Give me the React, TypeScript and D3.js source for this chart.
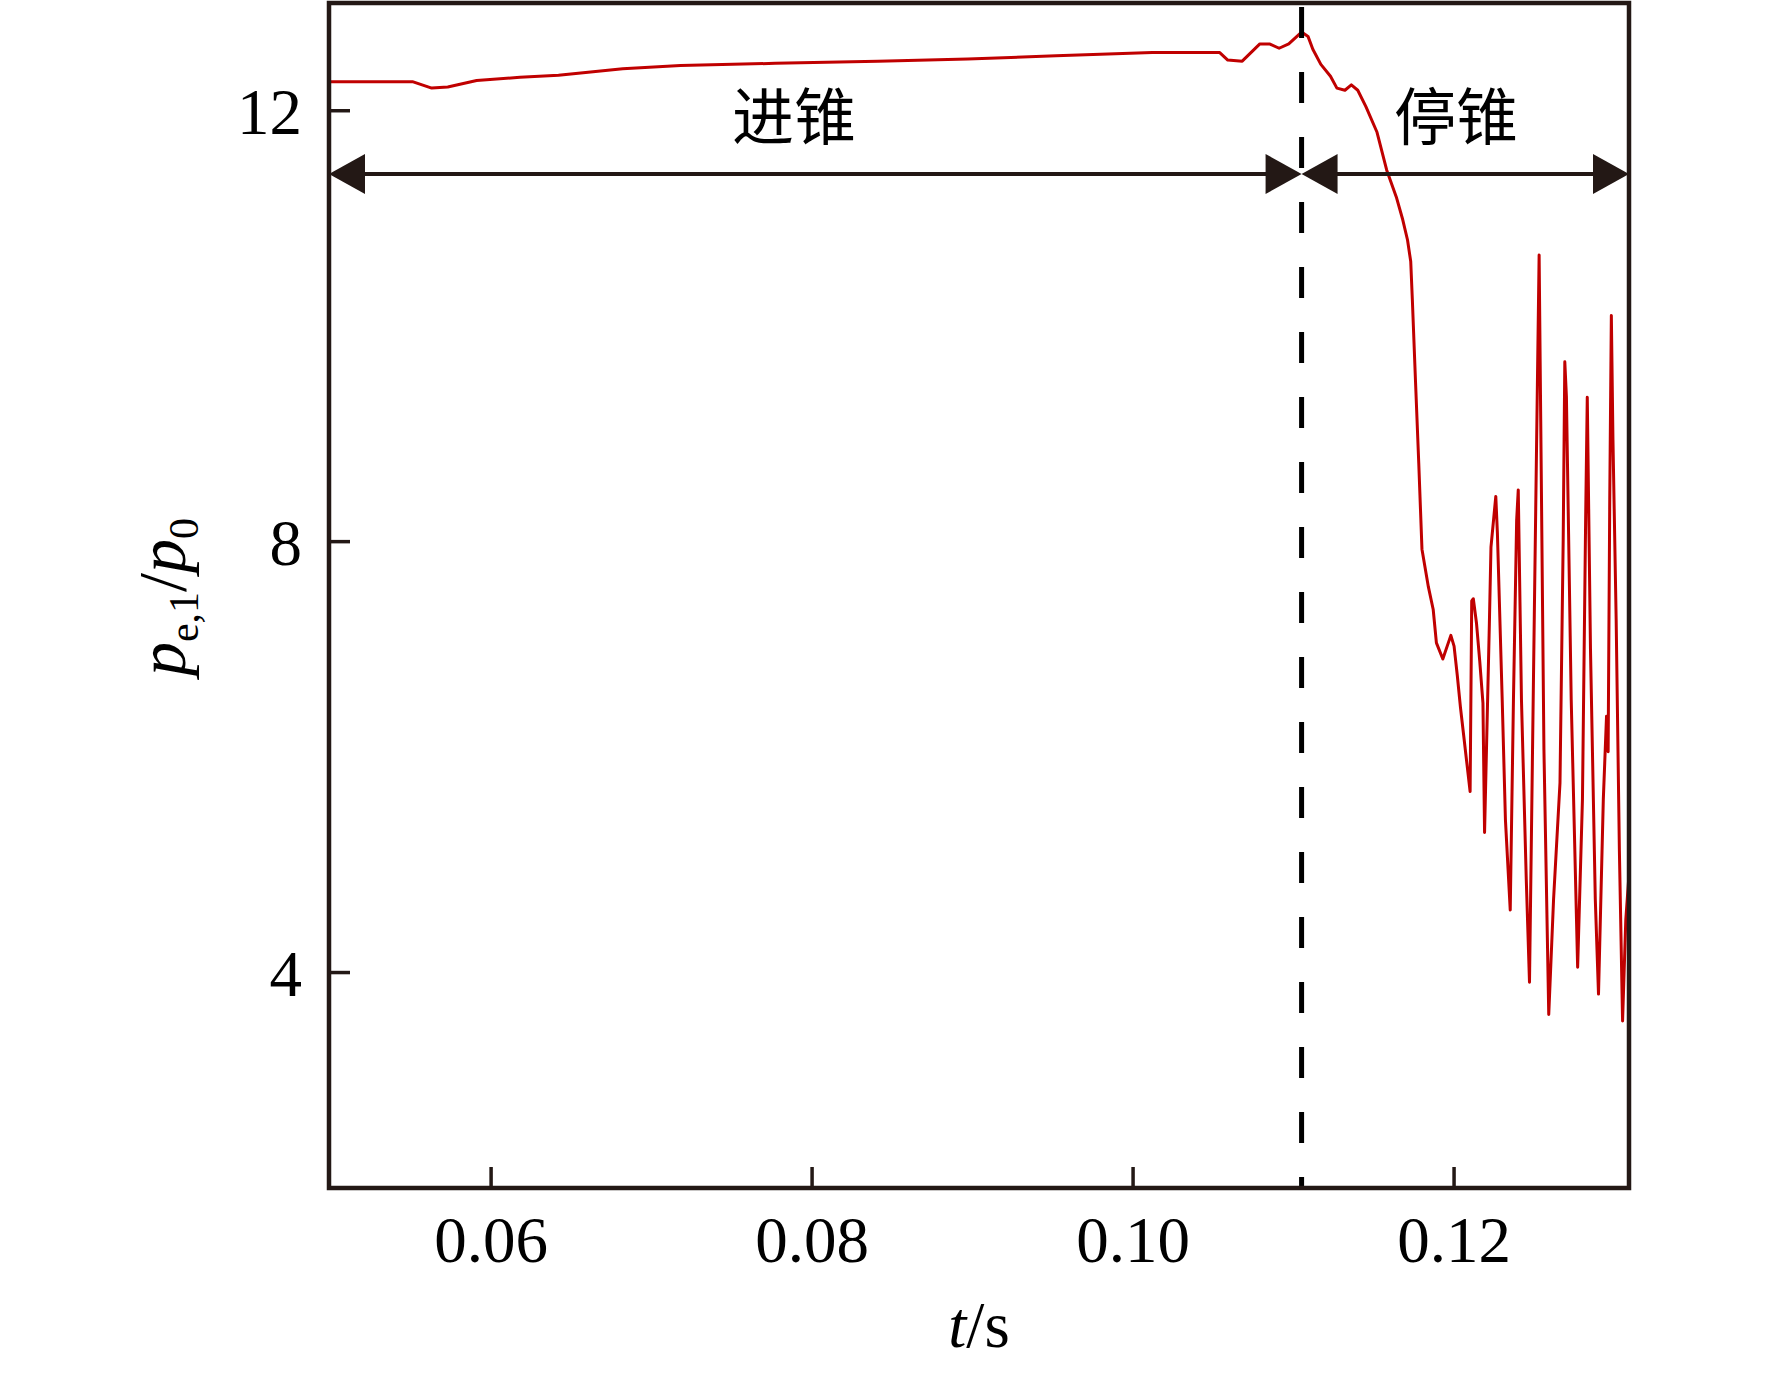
import React, { useEffect, useRef } from "react";
import * as d3 from "d3";

// pressure ratio trace
const timeS = [
	0.0499, 0.0551, 0.0563, 0.0573, 0.0591, 0.0618, 0.0642, 0.0662, 0.0682, 0.0718,
	0.0777, 0.0841, 0.0897, 0.0952, 0.1012, 0.1054, 0.1059, 0.1068, 0.1079, 0.1085,
	0.1091, 0.1097, 0.1105, 0.1109, 0.1112, 0.1117, 0.1123, 0.1127, 0.1132, 0.1136,
	0.114, 0.1145, 0.1152, 0.1158, 0.1164, 0.1168, 0.1171, 0.1173, 0.1174, 0.1176,
	0.1178, 0.118, 0.1184, 0.1187, 0.1189, 0.1193, 0.1198, 0.12, 0.1202, 0.1204,
	0.1206, 0.1208, 0.121, 0.1211, 0.1212, 0.1214, 0.1216, 0.1218, 0.1219, 0.1222,
	0.1223, 0.1226, 0.1227, 0.123, 0.1232, 0.1235, 0.1237, 0.1239, 0.124, 0.1242,
	0.1245, 0.1247, 0.125, 0.1253, 0.1254, 0.1256, 0.1259, 0.1262, 0.1266, 0.1268,
	0.1269, 0.127, 0.1273, 0.1277, 0.128, 0.1282, 0.1283, 0.1285, 0.1288, 0.129,
	0.1293, 0.1295, 0.1296, 0.1297, 0.1298, 0.1299, 0.1301, 0.1303, 0.1305, 0.1307,
	0.1309,
];
const pressureRatio = [
	12.27, 12.27, 12.21, 12.22, 12.28, 12.31, 12.33, 12.36, 12.39, 12.42,
	12.44, 12.46, 12.48, 12.51, 12.54, 12.54, 12.47, 12.46, 12.62, 12.62,
	12.58, 12.62, 12.73, 12.69, 12.57, 12.43, 12.32, 12.21, 12.19, 12.24,
	12.19, 12.04, 11.8, 11.45, 11.2, 10.99, 10.8, 10.6, 10.25, 9.48,
	8.73, 7.93, 7.58, 7.37, 7.06, 6.91, 7.13, 7.03, 6.76, 6.46,
	6.2, 5.94, 5.68, 7.45, 7.47, 7.24, 6.89, 6.5, 5.3, 7.24,
	7.95, 8.42, 8.08, 6.53, 5.42, 4.58, 6.53, 8.2, 8.48, 6.53,
	4.86, 3.91, 7.32, 10.66, 9.13, 6.07, 3.61, 4.68, 5.76, 8.02,
	9.67, 9.35, 6.53, 4.05, 5.61, 8.23, 9.34, 7.0, 4.68, 3.8,
	5.61, 6.38, 6.05, 8.39, 10.1, 8.95, 7.28, 5.14, 3.55, 4.49,
	4.91,
];

const xTicks = [0.06, 0.08, 0.1, 0.12];
const xTickLabels = ["0.06", "0.08", "0.10", "0.12"];
const yTicks = [4, 8, 12];
const yTickLabels = ["4", "8", "12"];

const phaseNames = ["进锥", "停锥"];
const phaseBounds = [0.0499, 0.1105, 0.1309];

const App: React.FC = () => {
	const svgRef = useRef<SVGSVGElement | null>(null);

	useEffect(() => {
		const svg = d3.select(svgRef.current);
		svg.selectAll("*").remove();

		const axisColor = "#231815";
		const serif = "'Liberation Serif', 'Times New Roman', serif";

		const x = d3.scaleLinear().domain([0.0499, 0.1309]).range([329, 1629]);
		const y = d3.scaleLinear().domain([2, 13]).range([1188, 3]);
		const [x0, x1] = x.range();
		const [yBottom, yTop] = y.range();

		svg.append("rect")
			.attr("width", 1772)
			.attr("height", 1376)
			.attr("fill", "#fff");

		svg.append("defs")
			.append("clipPath")
			.attr("id", "plot-clip")
			.append("rect")
			.attr("x", x0)
			.attr("y", yTop)
			.attr("width", x1 - x0)
			.attr("height", yBottom - yTop);

		// red trace
		const line = d3
			.line<number>()
			.x((_, i) => x(timeS[i]))
			.y((d) => y(d));

		svg.append("path")
			.datum(pressureRatio)
			.attr("d", line)
			.attr("clip-path", "url(#plot-clip)")
			.attr("fill", "none")
			.attr("stroke", "#c00000")
			.attr("stroke-width", 3)
			.attr("stroke-linejoin", "round");

		// phase boundary
		const xb = x(phaseBounds[1]);
		svg.append("line")
			.attr("x1", xb)
			.attr("x2", xb)
			.attr("y1", yTop + 4)
			.attr("y2", yBottom)
			.attr("stroke", "#000")
			.attr("stroke-width", 5)
			.attr("stroke-dasharray", "31,34");

		// double arrows
		const arrowY = 174;
		const headLen = 36;
		const headHalf = 20;
		for (let k = 0; k < phaseNames.length; k++) {
			const a = x(phaseBounds[k]);
			const b = x(phaseBounds[k + 1]);
			svg.append("line")
				.attr("x1", a + headLen - 2)
				.attr("x2", b - headLen + 2)
				.attr("y1", arrowY)
				.attr("y2", arrowY)
				.attr("stroke", axisColor)
				.attr("stroke-width", 4);
			svg.append("path")
				.attr(
					"d",
					`M${a},${arrowY}L${a + headLen},${arrowY - headHalf}L${a + headLen},${arrowY + headHalf}Z`
				)
				.attr("fill", axisColor);
			svg.append("path")
				.attr(
					"d",
					`M${b},${arrowY}L${b - headLen},${arrowY - headHalf}L${b - headLen},${arrowY + headHalf}Z`
				)
				.attr("fill", axisColor);
		}

		svg.append("text")
			.attr("x", 794)
			.attr("y", 113)
			.attr("dominant-baseline", "central")
			.attr("text-anchor", "middle")
			.style("font-family", "'Noto Sans CJK SC', sans-serif")
			.style("font-size", "62px")
			.attr("fill", "#000")
			.text(phaseNames[0]);

		svg.append("text")
			.attr("x", 1456)
			.attr("y", 113)
			.attr("dominant-baseline", "central")
			.attr("text-anchor", "middle")
			.style("font-family", "'Noto Sans CJK SC', sans-serif")
			.style("font-size", "62px")
			.attr("fill", "#000")
			.text(phaseNames[1]);

		// frame
		svg.append("rect")
			.attr("x", x0)
			.attr("y", yTop)
			.attr("width", x1 - x0)
			.attr("height", yBottom - yTop)
			.attr("fill", "none")
			.attr("stroke", axisColor)
			.attr("stroke-width", 4.5);

		// x ticks
		const tickLen = 21;
		xTicks.forEach((t, i) => {
			svg.append("line")
				.attr("x1", x(t))
				.attr("x2", x(t))
				.attr("y1", yBottom)
				.attr("y2", yBottom - tickLen)
				.attr("stroke", axisColor)
				.attr("stroke-width", 3.5);
			svg.append("text")
				.attr("x", x(t))
				.attr("y", 1262)
				.attr("text-anchor", "middle")
				.style("font-family", serif)
				.style("font-size", "65px")
				.attr("fill", "#000")
				.text(xTickLabels[i]);
		});

		// y ticks
		yTicks.forEach((v, i) => {
			svg.append("line")
				.attr("x1", x0)
				.attr("x2", x0 + tickLen)
				.attr("y1", y(v))
				.attr("y2", y(v))
				.attr("stroke", axisColor)
				.attr("stroke-width", 3.5);
			svg.append("text")
				.attr("x", 302)
				.attr("y", y(v) + 23)
				.attr("text-anchor", "end")
				.style("font-family", serif)
				.style("font-size", "65px")
				.attr("fill", "#000")
				.text(yTickLabels[i]);
		});

		// axis titles
		const xTitle = svg.append("text")
			.attr("x", (x0 + x1) / 2)
			.attr("y", 1347)
			.attr("text-anchor", "middle")
			.style("font-family", serif)
			.style("font-size", "65px")
			.attr("fill", "#000");
		xTitle.append("tspan").style("font-style", "italic").text("t");
		xTitle.append("tspan").text("/s");

		const yTitle = svg.append("text")
			.attr("transform", "translate(185,597) rotate(-90)")
			.attr("text-anchor", "middle")
			.style("font-family", serif)
			.style("font-size", "68px")
			.attr("fill", "#000");
		yTitle.append("tspan").style("font-style", "italic").text("p");
		yTitle.append("tspan").attr("dy", 13).style("font-size", "42px").text("e,1");
		yTitle.append("tspan").attr("dy", -13).text("/");
		yTitle.append("tspan").style("font-style", "italic").text("p");
		yTitle.append("tspan").attr("dy", 13).style("font-size", "42px").text("0");
	}, []);

	return (
		<svg
			ref={svgRef}
			width={1772}
			height={1376}
			style={{ position: "absolute", left: 0, top: 0 }}
		></svg>
	);
};

export default App;
